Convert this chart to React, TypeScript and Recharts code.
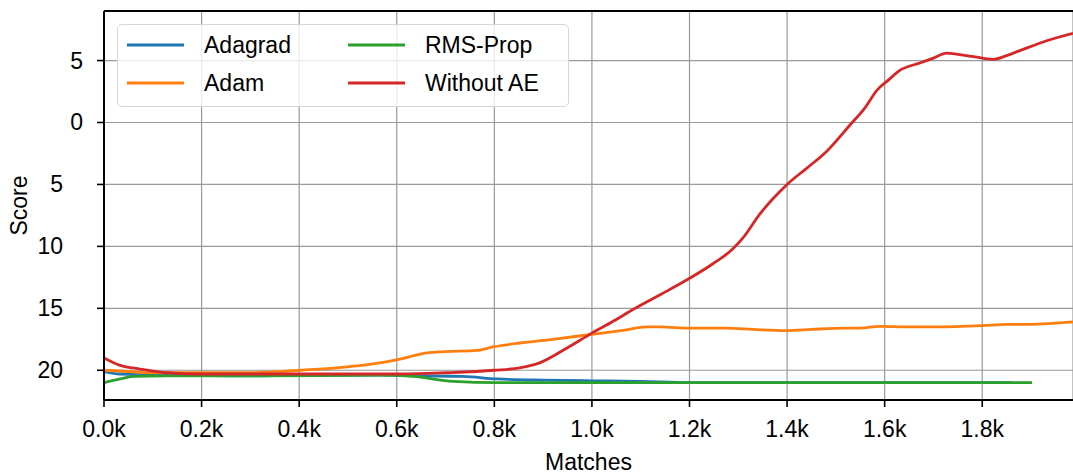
import React from 'react';
import { LineChart, Line, XAxis, YAxis, CartesianGrid, Legend, ReferenceLine } from 'recharts';

// ---- data (matches, score) ----
const adagradX = [0, 33, 129, 300, 400, 566, 650, 736, 805, 900, 1000, 1100, 1200, 1500, 1861];
const adagradY = [-20.1, -20.3, -20.4, -20.45, -20.4, -20.4, -20.45, -20.5, -20.7, -20.8, -20.85, -20.9, -21.0, -21.0, -21.0];

const adamX = [0, 50, 94, 200, 300, 402, 504, 566, 607, 662, 700, 764, 800, 852, 920, 1000, 1060, 1113, 1140, 1200, 1276, 1330, 1400, 1450, 1520, 1549, 1590, 1650, 1700, 1800, 1850, 1898, 1986];
const adamY = [-20.0, -20.1, -20.2, -20.2, -20.2, -20.0, -19.7, -19.4, -19.1, -18.6, -18.5, -18.4, -18.1, -17.8, -17.5, -17.1, -16.8, -16.5, -16.5, -16.6, -16.6, -16.7, -16.8, -16.7, -16.6, -16.6, -16.45, -16.5, -16.5, -16.4, -16.3, -16.3, -16.1];

const rmsX = [0, 33, 59, 129, 300, 566, 633, 716, 805, 1200, 1902];
const rmsY = [-21.0, -20.7, -20.5, -20.45, -20.45, -20.4, -20.5, -20.9, -21.0, -21.0, -21.0];

const noAeX = [0, 33, 74, 129, 197, 300, 402, 500, 607, 700, 800, 852, 893, 949, 1000, 1050, 1084, 1140, 1195, 1248, 1289, 1310, 1344, 1370, 1400, 1440, 1482, 1529, 1560, 1584, 1610, 1631, 1672, 1700, 1727, 1750, 1768, 1800, 1822, 1850, 1877, 1932, 1986];
const noAeY = [-19.0, -19.6, -19.9, -20.2, -20.3, -20.3, -20.3, -20.3, -20.3, -20.2, -20.0, -19.8, -19.4, -18.2, -17.0, -15.9, -15.1, -13.9, -12.7, -11.4, -10.2, -9.3, -7.4, -6.2, -5.0, -3.7, -2.3, -0.2, 1.2, 2.6, 3.5, 4.2, 4.8, 5.2, 5.6, 5.5, 5.4, 5.2, 5.1, 5.4, 5.8, 6.6, 7.2];

const xTicks = [0, 200, 400, 600, 800, 1000, 1200, 1400, 1600, 1800];
const yTicks = [-20, -15, -10, -5, 0, 5];
const X_DOMAIN: [number, number] = [0, 1986];
const Y_DOMAIN: [number, number] = [-22.4, 9.0];

const zip = (xs: number[], ys: number[]) => xs.map((x, i) => ({ x, y: ys[i] }));

const series = [
  { name: 'Adagrad', color: '#1f77b4', data: zip(adagradX, adagradY) },
  { name: 'Adam', color: '#ff7f0e', data: zip(adamX, adamY) },
  { name: 'RMS-Prop', color: '#2ca02c', data: zip(rmsX, rmsY) },
  { name: 'Without AE', color: '#d62728', data: zip(noAeX, noAeY) },
];

const FONT = '"Liberation Sans", Arial, Helvetica, sans-serif';
const FS = 23;

const XTick = (props: any) => {
  const { x, y, payload } = props;
  return (
    <text x={x} y={y} dy={17} textAnchor="middle" fontFamily={FONT} fontSize={FS} fill="#000">
      {(payload.value / 1000).toFixed(1) + 'k'}
    </text>
  );
};

const YTick = (props: any) => {
  const { x, y, payload } = props;
  const v = payload.value as number;
  // the reference renders the minus sign as a blank gap
  return (
    <text x={x} y={y} dx={v < 0 ? -20 : 0} dy={8} textAnchor="end" fontFamily={FONT} fontSize={FS} fill="#000">
      {String(Math.abs(v))}
    </text>
  );
};

const YLabel = (props: any) => {
  const vb = props.viewBox || {};
  const cx = vb.x + 27;
  const cy = vb.y + vb.height / 2;
  return (
    <text x={cx} y={cy} transform={`rotate(-90 ${cx} ${cy})`} textAnchor="middle" fontFamily={FONT} fontSize={FS} fill="#000">
      Score
    </text>
  );
};

const XLabel = (props: any) => {
  const vb = props.viewBox || {};
  return (
    <text x={vb.x + vb.width / 2} y={vb.y + 70} textAnchor="middle" fontFamily={FONT} fontSize={FS} fill="#000">
      Matches
    </text>
  );
};

const LegendBox = (props: any) => {
  const payload = (props.payload || []) as any[];
  return (
    <div
      style={{
        width: 452,
        height: 83,
        boxSizing: 'border-box',
        background: 'rgba(255,255,255,0.8)',
        border: '1.5px solid #d6d6d6',
        borderRadius: 5,
        position: 'relative',
      }}
    >
      {payload.map((p: any, i: number) => {
        const col = Math.floor(i / 2);
        const row = i % 2;
        const left = col === 0 ? 9 : 230;
        const top = row === 0 ? 20 : 58;
        return (
          <div key={p.value} style={{ position: 'absolute', left, top: top - 15, height: 30, display: 'flex', alignItems: 'center' }}>
            <svg width={57} height={30} style={{ display: 'block' }}>
              <line x1={0} x2={57} y1={15} y2={15} stroke={p.color} strokeWidth={3.2} />
            </svg>
            <span style={{ marginLeft: 20, fontFamily: FONT, fontSize: FS, color: '#000', whiteSpace: 'nowrap', lineHeight: '30px' }}>
              {p.value}
            </span>
          </div>
        );
      })}
    </div>
  );
};

export default function App() {
  return (
    <div style={{ position: 'absolute', left: 0, top: 0, width: 1073, height: 475, background: '#fff' }}>
      <LineChart width={1073} height={475} margin={{ top: 11, right: 0, bottom: 0, left: 0 }}>
        <CartesianGrid stroke="#999" strokeWidth={1.2} />
        <XAxis
          type="number"
          dataKey="x"
          domain={X_DOMAIN}
          allowDataOverflow
          ticks={xTicks}
          interval={0}
          height={75}
          tickSize={7}
          tickMargin={13}
          tick={<XTick />}
          axisLine={{ stroke: '#000', strokeWidth: 2 }}
          tickLine={{ stroke: '#000', strokeWidth: 1.6 }}
          label={<XLabel />}
        />
        <YAxis
          type="number"
          dataKey="y"
          domain={Y_DOMAIN}
          allowDataOverflow
          ticks={yTicks}
          interval={0}
          width={104}
          tickSize={7}
          tickMargin={14}
          tick={<YTick />}
          axisLine={{ stroke: '#000', strokeWidth: 2 }}
          tickLine={{ stroke: '#000', strokeWidth: 1.6 }}
          label={<YLabel />}
        />
        <ReferenceLine y={Y_DOMAIN[1]} stroke="#000" strokeWidth={2} />
        {series.map((s) => (
          <Line
            key={s.name}
            data={s.data}
            dataKey="y"
            name={s.name}
            type="monotone"
            stroke={s.color}
            strokeWidth={2.8}
            dot={false}
            activeDot={false}
            isAnimationActive={false}
          />
        ))}
        <Legend
          layout="horizontal"
          verticalAlign="middle"
          align="center"
          content={<LegendBox />}
          wrapperStyle={{ position: 'absolute', left: 117, top: 24, width: 452, height: 83 }}
        />
      </LineChart>
    </div>
  );
}
